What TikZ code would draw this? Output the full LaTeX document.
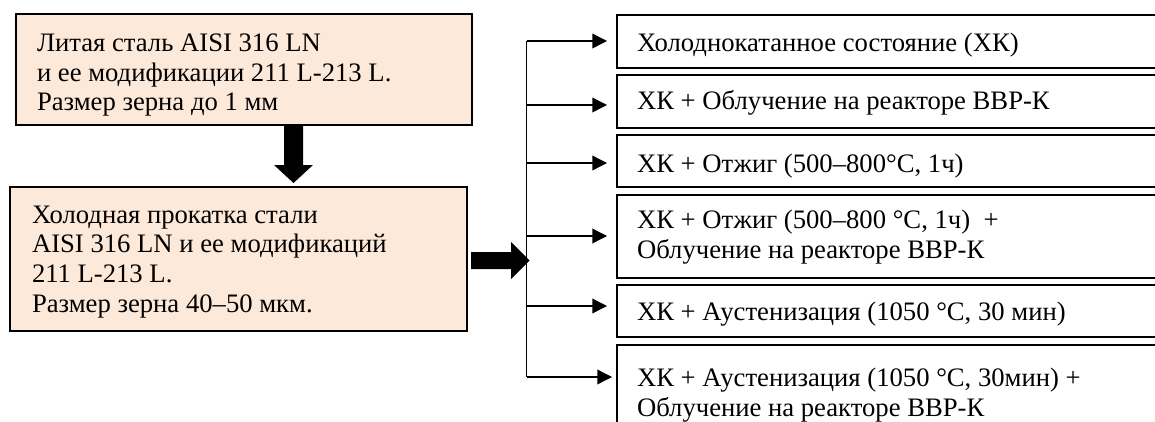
\documentclass[tikz,border=0pt]{standalone}
\usepackage{fontspec}
\setmainfont{Liberation Serif}
\usetikzlibrary{arrows.meta,fit}
\definecolor{peach}{HTML}{FDE9D9}
\begin{document}
\begin{tikzpicture}[x=0.75pt,y=-0.75pt,
  box/.style={draw=black, line width=1.5pt, inner sep=0pt, outer sep=0pt},
  peachbox/.style={box, fill=peach},
  txt/.style={inner sep=0pt, outer sep=0pt, anchor=north west, align=left,
    font=\fontsize{20}{22.2}\selectfont},
  thinline/.style={line width=1pt},
  branch/.style={thinline, -{Triangle[length=11pt,width=11pt]}},
  blockarrow/.style={fill=black}]
\useasboundingbox (0,0) rectangle (1155,421);
\clip (0,0) rectangle (1155,421);
% left boxes
\node[peachbox, fit={(16,14) (472,125)}] (b1) {};
\node[peachbox, fit={(10,187) (467,331)}] (b2) {};
\node[txt] (t1) at (37,31) {\strut Литая сталь AISI 316 LN\\\strut и ее модификации 211 L-213 L.\\\strut Размер зерна до 1 мм};
\node[txt] (t2) at (32,202.6) {\strut Холодная прокатка стали\\\strut AISI 316 LN и ее модификаций\\\strut 211 L-213 L.\\\strut Размер зерна 40–50 мкм.};
% right boxes
\node[box, fit={(617,15) (1170,68)}] (r1) {};
\node[box, fit={(617,75) (1170,128)}] (r2) {};
\node[box, fit={(617,135) (1170,187)}] (r3) {};
\node[box, fit={(617,195) (1170,278)}] (r4) {};
\node[box, fit={(617,285) (1170,337)}] (r5) {};
\node[box, fit={(617,345) (1170,440)}] (r6) {};
\node[txt] (s1) at (637,30.8) {\strut Холоднокатанное состояние (ХК)};
\node[txt] (s2) at (637,88.3) {\strut ХК + Облучение на реакторе ВВР-К};
\node[txt] (s3) at (637,151.3) {\strut ХК + Отжиг (500–800°C, 1ч)};
\node[txt] (s4) at (637,207.8) {\strut ХК + Отжиг (500–800 °C, 1ч)~ +\\\strut Облучение на реакторе ВВР-К};
\node[txt] (s5) at (637,299.3) {\strut ХК + Аустенизация (1050 °C, 30 мин)};
\node[txt] (s6) at (637,365.8) {\strut ХК + Аустенизация (1050 °C, 30мин) +\\\strut Облучение на реакторе ВВР-К};
% block arrows
\fill[blockarrow] (284,125) -- (303,125) -- (303,165) -- (313,165) -- (293.5,183) -- (274,165) -- (284,165) -- cycle;
\fill[blockarrow] (471,252) -- (511,252) -- (511,242) -- (529.5,260.5) -- (511,279) -- (511,269) -- (471,269) -- cycle;
% distribution line
\coordinate (vtop) at (526.7,41);
\coordinate (vbot) at (526.7,377);
\draw[thinline] (vtop) -- (vbot);
\coordinate (e1) at (607,41);
\coordinate (e2) at (607,105);
\coordinate (e3) at (607,163);
\coordinate (e4) at (607,236);
\coordinate (e5) at (607,306);
\coordinate (e6) at (612,377);
\draw[branch] (vtop) -- (e1);
\draw[branch] (vtop |- e2) -- (e2);
\draw[branch] (vtop |- e3) -- (e3);
\draw[branch] (vtop |- e4) -- (e4);
\draw[branch] (vtop |- e5) -- (e5);
\draw[branch] (vbot) -- (e6);
\end{tikzpicture}
\end{document}
